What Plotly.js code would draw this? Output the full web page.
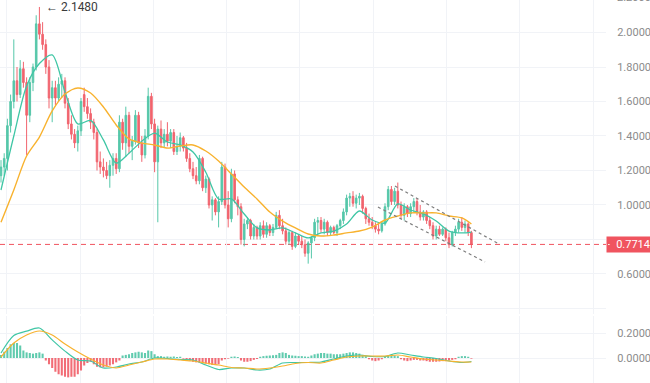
<!DOCTYPE html>
<html><head><meta charset="utf-8">
<script src="https://cdn.plot.ly/plotly-3.0.1.min.js"></script>
<style>html,body{margin:0;padding:0;background:#fff;overflow:hidden}#chart{width:650px;height:383px}</style>
</head><body><div id="chart"></div>
<script>
// ---- candle data ----
const openP = [1.17,1.22,1.27,1.46,1.60,1.72,1.64,1.79,1.71,1.52,
1.71,1.80,2.05,1.99,1.93,1.80,1.62,1.68,1.62,1.70,
1.72,1.59,1.47,1.41,1.36,1.43,1.64,1.57,1.53,1.48,
1.42,1.25,1.22,1.20,1.17,1.23,1.27,1.21,1.48,1.36,
1.52,1.34,1.37,1.52,1.36,1.29,1.40,1.63,1.47,1.25,
1.44,1.36,1.41,1.37,1.42,1.31,1.34,1.39,1.33,1.27,
1.21,1.17,1.14,1.27,1.10,1.15,1.00,1.03,0.96,1.02,
1.22,1.00,0.92,1.18,1.03,0.99,0.80,0.89,0.91,0.82,
0.87,0.82,0.88,0.83,0.88,0.84,0.87,0.94,0.88,0.85,
0.79,0.84,0.76,0.82,0.79,0.77,0.72,0.78,0.81,0.90,
0.91,0.86,0.90,0.84,0.87,0.84,0.88,0.91,0.96,1.04,
1.05,1.01,1.04,1.05,0.98,0.92,0.90,0.88,0.86,0.85,
0.89,0.99,1.09,1.02,1.08,1.00,0.94,0.99,0.95,0.99,
1.02,0.96,0.93,0.96,0.91,0.88,0.82,0.86,0.83,0.86,
0.81,0.77,0.84,0.86,0.90,0.87,0.89,0.84];
const highP = [1.26,1.30,1.50,1.64,1.96,1.80,1.84,1.83,1.74,1.74,
1.82,2.10,2.148,2.06,1.96,1.84,1.72,1.72,1.74,1.76,
1.74,1.62,1.52,1.44,1.46,1.62,1.68,1.62,1.56,1.50,
1.44,1.31,1.27,1.25,1.26,1.30,1.30,1.52,1.50,1.57,
1.54,1.40,1.55,1.54,1.40,1.44,1.68,1.65,1.50,1.46,
1.49,1.44,1.48,1.44,1.44,1.40,1.42,1.40,1.36,1.30,
1.25,1.22,1.29,1.28,1.17,1.16,1.05,1.04,1.05,1.25,
1.24,1.08,1.21,1.20,1.05,1.01,0.92,0.93,0.92,0.89,
0.88,0.90,0.91,0.90,0.89,0.89,0.96,0.97,0.92,0.87,
0.85,0.85,0.84,0.83,0.82,0.80,0.79,0.82,0.92,0.93,
0.93,0.92,0.91,0.88,0.88,0.89,0.92,0.98,1.06,1.07,
1.08,1.06,1.07,1.06,0.99,0.95,0.93,0.90,0.89,0.90,
1.01,1.11,1.11,1.10,1.13,1.02,1.01,1.00,1.01,1.04,
1.04,1.00,0.97,0.97,0.93,0.90,0.88,0.88,0.87,0.87,
0.84,0.85,0.88,0.92,0.93,0.91,0.90,0.85];
const lowP = [1.13,1.17,1.20,1.42,1.56,1.60,1.62,1.68,1.29,1.48,
1.66,1.78,1.96,1.90,1.76,1.56,1.48,1.58,1.60,1.62,
1.56,1.44,1.38,1.33,1.31,1.40,1.54,1.50,1.44,1.38,
1.20,1.18,1.16,1.15,1.10,1.17,1.18,1.19,1.32,1.28,
1.30,1.26,1.35,1.33,1.25,1.27,1.38,1.44,1.19,0.90,
1.33,1.33,1.34,1.33,1.29,1.29,1.31,1.31,1.25,1.19,
1.15,1.12,1.12,1.08,1.07,0.98,0.91,0.94,0.87,1.00,
0.98,0.87,0.90,1.01,0.94,0.77,0.76,0.86,0.80,0.80,
0.80,0.80,0.81,0.81,0.82,0.82,0.86,0.86,0.83,0.77,
0.77,0.74,0.75,0.77,0.75,0.70,0.66,0.69,0.79,0.83,
0.84,0.83,0.82,0.82,0.83,0.82,0.86,0.89,0.94,0.99,
0.99,0.98,1.00,0.95,0.89,0.88,0.86,0.84,0.83,0.84,
0.88,0.97,1.00,1.00,0.98,0.92,0.91,0.93,0.93,0.96,
0.94,0.91,0.91,0.89,0.86,0.80,0.80,0.82,0.82,0.79,
0.75,0.76,0.82,0.84,0.85,0.84,0.82,0.75];
const closeP = [1.22,1.27,1.46,1.60,1.72,1.64,1.79,1.71,1.52,1.71,
1.80,2.05,1.99,1.93,1.80,1.62,1.68,1.62,1.70,1.72,
1.59,1.47,1.41,1.36,1.43,1.60,1.57,1.53,1.48,1.42,
1.25,1.22,1.20,1.17,1.23,1.27,1.21,1.48,1.36,1.52,
1.34,1.37,1.52,1.36,1.29,1.40,1.63,1.47,1.25,1.44,
1.36,1.41,1.37,1.42,1.31,1.34,1.39,1.33,1.27,1.21,
1.17,1.14,1.27,1.10,1.15,1.00,1.03,0.96,1.02,1.22,
1.00,0.92,1.18,1.03,0.99,0.80,0.89,0.91,0.82,0.87,
0.82,0.88,0.83,0.88,0.84,0.87,0.94,0.88,0.85,0.79,
0.84,0.76,0.82,0.79,0.77,0.72,0.78,0.81,0.90,0.91,
0.86,0.90,0.84,0.87,0.84,0.88,0.91,0.96,1.04,1.05,
1.01,1.04,1.05,0.98,0.92,0.90,0.88,0.86,0.85,0.89,
0.99,1.09,1.02,1.08,1.00,0.94,0.99,0.95,0.99,1.02,
0.96,0.93,0.96,0.91,0.88,0.82,0.86,0.83,0.86,0.81,
0.77,0.84,0.86,0.90,0.87,0.89,0.84,0.7714];

// ---- moving averages & MACD lines (every 4th candle) ----
const maIdx = [0,4,8,12,16,20,24,28,32,36,40,44,48,52,56,60,64,68,72,76,80,84,88,92,96,100,104,108,112,116,120,124,128,132,136,140,144,147];
const maFast = [1.087,1.40,1.69,1.82,1.87,1.655,1.47,1.49,1.377,1.243,1.30,1.37,1.417,1.365,1.348,1.307,1.19,1.035,1.035,0.948,0.867,0.855,0.867,0.838,0.809,0.838,0.849,0.89,0.965,0.913,0.896,1.006,0.971,0.948,0.907,0.849,0.838,0.843];
const maSlow = [0.90,1.087,1.284,1.394,1.545,1.643,1.678,1.649,1.568,1.464,1.383,1.359,1.348,1.33,1.342,1.348,1.313,1.255,1.18,1.104,1.035,0.959,0.907,0.867,0.832,0.82,0.826,0.838,0.849,0.872,0.913,0.936,0.954,0.954,0.954,0.936,0.925,0.89];
const macdLine = [0.04,0.18,0.215,0.24,0.145,0.055,-0.016,-0.024,-0.08,-0.072,-0.048,-0.032,0,-0.004,-0.012,-0.016,-0.056,-0.092,-0.08,-0.08,-0.096,-0.088,-0.04,-0.036,-0.036,-0.032,-0.008,0.016,0.024,0.012,0.012,0.04,0.024,0.008,-0.004,-0.024,-0.036,-0.028];
const signalLine = [0.008,0.12,0.184,0.216,0.184,0.112,0.048,-0.008,-0.056,-0.08,-0.056,-0.032,-0.008,-0.008,-0.016,-0.024,-0.04,-0.056,-0.076,-0.08,-0.088,-0.08,-0.064,-0.044,-0.036,-0.04,-0.016,0.008,0.016,0.016,0.016,0.024,0.008,-0.008,-0.016,-0.024,-0.032,-0.032];
const histVals = [0.024,0.05,0.08,0.11,0.12,0.12,0.10,0.06,0.045,0.04,0.035,0.04,0.045,0.035,
-0.02,-0.05,-0.08,-0.11,-0.13,-0.14,-0.15,-0.155,-0.15,-0.15,-0.13,-0.10,-0.06,-0.04,-0.03,-0.05,-0.07,-0.075,-0.075,-0.07,-0.06,-0.05,-0.035,-0.02,
0.02,0.025,0.03,0.04,0.045,0.05,0.045,0.04,0.06,0.055,0.03,
0.015,0.015,0.01,0.012,0.01,0.012,0.008,0.01,
-0.005,-0.01,-0.02,-0.03,-0.035,-0.035,-0.04,-0.045,-0.05,-0.055,-0.055,-0.05,
-0.02,-0.01,-0.005,0.01,0.012,0.008,
-0.02,-0.03,-0.03,-0.025,-0.015,-0.008,
0.01,0.015,0.018,0.02,0.022,0.025,0.04,0.045,0.04,0.025,0.02,0.018,0.015,0.015,0.012,0.01,
0.02,0.03,0.035,0.04,0.04,0.035,0.035,0.03,0.03,0.03,0.035,0.04,0.045,0.045,0.04,0.035,0.025,0.015,
-0.01,-0.02,-0.025,-0.02,-0.01,
0.01,0.02,0.025,0.02,0.015,
-0.01,-0.02,-0.025,-0.02,-0.015,-0.015,-0.02,-0.02,-0.025,-0.03,-0.03,-0.03,-0.028,-0.025,-0.025,-0.02,-0.015,-0.01,
0.01,0.015,0.015,0.01,-0.005];

// ---- drawn channel, last price, peak label ----
const channelUpperIdx = [123.1, 155.9], channelUpperPrice = [1.110, 0.771];
const channelLowerIdx = [117.8, 151.25], channelLowerPrice = [0.988, 0.670];
const lastPrice = 0.7714;
const peakIdx = 12, peakPrice = 2.1480;
const priceTicks = [0.4,0.6,0.8,1.0,1.2,1.4,1.6,1.8,2.0];
const priceTickText = ['','0.6000','','1.0000','1.2000','1.4000','1.6000','1.8000','2.0000'];
const macdTicks = [-0.2,0,0.2];
const macdTickText = ['','0.0000','0.2000'];
const topTickLabel = '2.2000';

const UP = '#45c2a1', DN = '#f0545f', FAST = '#3fc6a5', SLOW = '#f8b22e';
const GRID = '#f1f3f7', TICKC = '#8c8c8c', FONT = 'Roboto, "Open Sans", sans-serif';
const idx = closeP.map((_, i) => i);

const traces = [
  {type:'candlestick', x:idx, open:openP, high:highP, low:lowP, close:closeP,
   increasing:{line:{color:UP,width:1}, fillcolor:UP},
   decreasing:{line:{color:DN,width:1}, fillcolor:DN},
   whiskerwidth:0, hoverinfo:'skip', xaxis:'x', yaxis:'y', opacity:0.9},
  {type:'scatter', mode:'lines', x:maIdx, y:maFast, line:{color:FAST,width:1.3,shape:'spline',smoothing:0.8}, xaxis:'x', yaxis:'y', hoverinfo:'skip'},
  {type:'scatter', mode:'lines', x:maIdx, y:maSlow, line:{color:SLOW,width:1.4,shape:'spline',smoothing:0.8}, xaxis:'x', yaxis:'y', hoverinfo:'skip'},
  {type:'scatter', mode:'lines', x:channelUpperIdx, y:channelUpperPrice, line:{color:'#7d7d7d',width:1.2,dash:'dot'}, xaxis:'x', yaxis:'y', hoverinfo:'skip'},
  {type:'scatter', mode:'lines', x:channelLowerIdx, y:channelLowerPrice, line:{color:'#7d7d7d',width:1.2,dash:'dot'}, xaxis:'x', yaxis:'y', hoverinfo:'skip'},
  {type:'bar', x:idx, y:histVals, marker:{color:histVals.map(v => v >= 0 ? UP : DN), line:{width:0}}, opacity:0.85, xaxis:'x', yaxis:'y2', hoverinfo:'skip'},
  {type:'scatter', mode:'lines', x:maIdx, y:macdLine, line:{color:FAST,width:1.2,shape:'spline',smoothing:0.8}, xaxis:'x', yaxis:'y2', hoverinfo:'skip'},
  {type:'scatter', mode:'lines', x:maIdx, y:signalLine, line:{color:SLOW,width:1.2,shape:'spline',smoothing:0.8}, xaxis:'x', yaxis:'y2', hoverinfo:'skip'}
];

const layout = {
  width:650, height:383, showlegend:false,
  paper_bgcolor:'#ffffff', plot_bgcolor:'#ffffff',
  margin:{l:0, r:44, t:0, b:0},
  bargap:0.35,
  font:{family:FONT, size:11, color:TICKC},
  xaxis:{range:[-0.3125, 189.06], showticklabels:false, showgrid:true, gridcolor:GRID, gridwidth:1,
         tick0:24.7, dtick:22.9, zeroline:false, showline:false, ticks:'', anchor:'y2',
         rangeslider:{visible:false}, fixedrange:true},
  yaxis:{domain:[0.1802,1], range:[0.3681,2.1884], side:'right', tickvals:priceTicks, ticktext:priceTickText,
         showgrid:true, gridcolor:GRID, zeroline:false, showline:false, ticks:'outside', ticklen:8,
         tickcolor:'rgba(0,0,0,0)', tickfont:{family:FONT,size:11,color:TICKC}, anchor:'x', fixedrange:true},
  yaxis2:{domain:[0,0.1749], range:[-0.2,0.336], side:'right', tickvals:macdTicks, ticktext:macdTickText,
          showgrid:true, gridcolor:GRID, zeroline:false, showline:false, ticks:'outside', ticklen:8,
          tickcolor:'rgba(0,0,0,0)', tickfont:{family:FONT,size:11,color:TICKC}, anchor:'x', fixedrange:true},
  shapes:[
    {type:'line', xref:'paper', x0:0, x1:1, yref:'y', y0:lastPrice, y1:lastPrice,
     line:{color:DN, width:1, dash:'5px,4px'}, layer:'below'}
  ],
  annotations:[
    {xref:'paper', x:1, xanchor:'left', yref:'y', y:lastPrice, yanchor:'middle', text:'–  ' + lastPrice.toFixed(4),
     showarrow:false, bgcolor:DN, font:{family:FONT,size:11,color:'#ffffff'}, width:42, align:'right', borderpad:1},
    {xref:'paper', x:1, xanchor:'left', xshift:9, yref:'paper', y:1.0055, yanchor:'middle', text:topTickLabel,
     showarrow:false, font:{family:FONT,size:11,color:TICKC}},
    {xref:'x', x:peakIdx, xanchor:'left', xshift:5, yref:'y', y:peakPrice, yanchor:'middle', text:'← ' + peakPrice.toFixed(4),
     showarrow:false, font:{family:FONT,size:12,color:'#3a3a3a'}}
  ]
};

Plotly.newPlot('chart', traces, layout, {staticPlot:true, displayModeBar:false});
</script>
</body></html>
